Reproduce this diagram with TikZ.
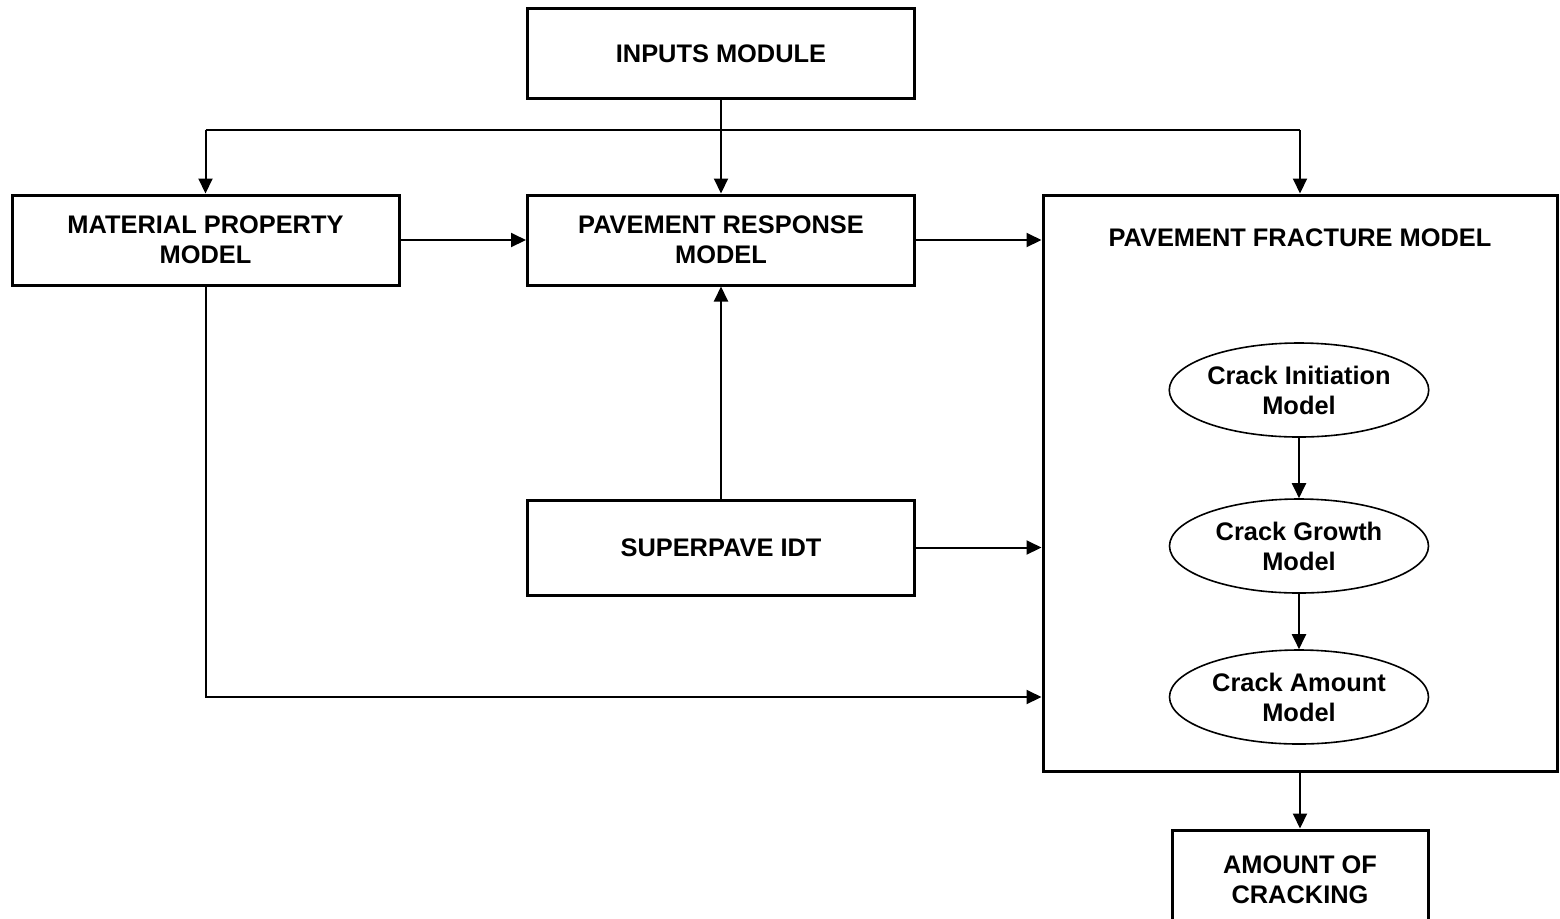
\documentclass[tikz,border=0pt]{standalone}
\usepackage{fontspec}
\setmainfont{Liberation Sans}
\usepackage{tikz}
\usetikzlibrary{arrows.meta,shapes.geometric,positioning}

\begin{document}
\begin{tikzpicture}[%
            x=0.5pt,
            y=-0.5pt,
            font=\fontsize{12.7}{15}\selectfont\bfseries,
            align=center,
            box/.style={
                draw,
                line width=1.5pt,
                rectangle,
                minimum width=193.5pt,
                minimum height=45pt,
                inner sep=0pt,
            },
            oval/.style={
                draw,
                line width=0.8pt,
                ellipse,
                minimum width=129.5pt,
                minimum height=47pt,
                inner sep=0pt,
            },
            link/.style={
                line width=1pt,
                -{Triangle[length=7.5pt,width=7pt]},
            },
        ]
        \useasboundingbox (0,0) rectangle (1560,918);
        % boxes
        \node[box] (inputs) at (721,53.5) {INPUTS MODULE};
        \node[box] (material) at (205.5,240) {MATERIAL PROPERTY\\MODEL};
        \node[box] (response) at (721,240) {PAVEMENT RESPONSE\\MODEL};
        \node[box, minimum height=47.5pt] (superpave) at (721,547.5) {SUPERPAVE IDT};
        \node[box, minimum width=257pt, minimum height=288pt] (fracture) at (1300,483) {};
        \node (fracturetitle) at (1300,238) {PAVEMENT FRACTURE MODEL};
        \node[box, minimum width=128pt, minimum height=50pt] (amount) at (1300,880) {AMOUNT OF\\CRACKING};
        % inner models
        \node[oval] (initiation) at (1299,390) {Crack Initiation\\Model};
        \node[oval] (growth) at (1299,546) {Crack Growth\\Model};
        \node[oval] (crackamount) at (1299,697) {Crack Amount\\Model};
        % connectors
        \coordinate (split) at (721,130);
        \draw[link] (inputs.south) -- (response.north);
        \draw[line width=1pt] (split -| material.north) -- (split -| fracture.north);
        \draw[link] (split -| material.north) -- (material.north);
        \draw[link] (split -| fracture.north) -- (fracture.north);
        \draw[link] (material.east) -- (response.west);
        \draw[link] (response.east) -- (response.east -| fracture.west);
        \draw[link] (superpave.north) -- (response.south);
        \draw[link] (superpave.east) -- (superpave.east -| fracture.west);
        \draw[link] (material.south) |- (crackamount.west -| fracture.west);
        \draw[link] (initiation) -- (growth);
        \draw[link] (growth) -- (crackamount);
        \draw[link] (fracture.south) -- (amount.north);
    \end{tikzpicture}
\end{document}
